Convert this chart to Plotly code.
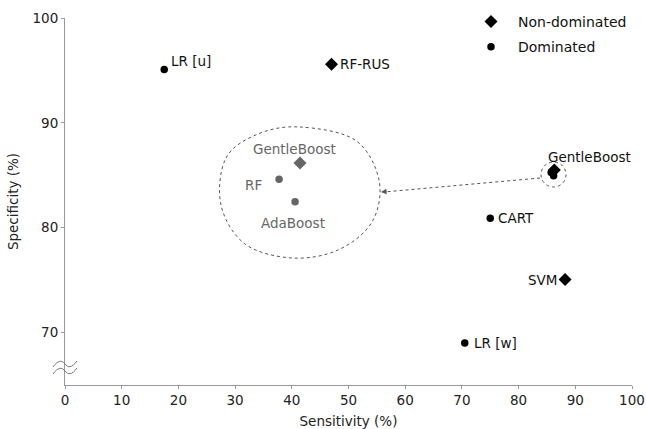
import plotly.graph_objects as go

# ---- data ----
nd_names = ["RF-RUS", "SVM", "GentleBoost"]
nd_sens = [47.0, 88.2, 86.3]
nd_spec = [95.6, 75.05, 85.5]

d_names = ["LR [u]", "CART", "LR [w]", "RF", "AdaBoost"]
d_sens = [17.5, 75.0, 70.5, 85.75, 86.17]
d_spec = [95.1, 80.9, 69.0, 85.27, 84.95]

x_ticks = list(range(0, 101, 10))
y_ticks = [70, 80, 90, 100]

# inset (zoomed cluster)
in_nd_names = ["GentleBoost"]
in_nd_sens = [86.3]
in_nd_spec = [85.5]
in_d_names = ["RF", "AdaBoost"]
in_d_sens = [85.75, 86.17]
in_d_spec = [85.27, 84.95]

FONT = "DejaVu Sans"
W, H = 646, 429
L, R, T, B = 65, 14, 18, 44
PW, PH = W - L - R, H - T - B


def px(x):
    return (x - L) / PW


def py(y):
    return (H - B - y) / PH


fig = go.Figure()

fig.add_trace(go.Scatter(
    x=nd_sens, y=nd_spec, mode="markers", name="Non-dominated",
    marker=dict(symbol="diamond", size=10, color="#000"),
    legendgroup="a",
))
fig.add_trace(go.Scatter(
    x=d_sens, y=d_spec, mode="markers", name="Dominated",
    marker=dict(symbol="circle", size=7.5, color="#000"),
    legendgroup="b",
))
# inset traces
fig.add_trace(go.Scatter(
    x=in_nd_sens, y=in_nd_spec, mode="markers", showlegend=False,
    marker=dict(symbol="diamond", size=10, color="#666"),
    xaxis="x2", yaxis="y2",
))
fig.add_trace(go.Scatter(
    x=in_d_sens, y=in_d_spec, mode="markers", showlegend=False,
    marker=dict(symbol="circle", size=7.5, color="#666"),
    xaxis="x2", yaxis="y2",
))

annots = []
# main labels: (name, xanchor, xshift, yshift)
main_lab = {
    "RF-RUS": ("left", 7, 0),
    "SVM": ("right", -6, 0),
    "GentleBoost": ("left", -8, 13),
    "LR [u]": ("left", 5, 8),
    "CART": ("left", 6, 0),
    "LR [w]": ("left", 7, 0),
}
for n, xv, yv in zip(nd_names + d_names, nd_sens + d_sens, nd_spec + d_spec):
    if n not in main_lab:
        continue
    xa, xs, ys = main_lab[n]
    annots.append(dict(x=xv, y=yv, xref="x", yref="y", text=n, showarrow=False,
                       xanchor=xa, yanchor="middle", xshift=xs, yshift=ys,
                       font=dict(family=FONT, size=13.5, color="#111")))

inset_lab = {
    "GentleBoost": ("center", -6, 14),
    "RF": ("right", -15, -6),
    "AdaBoost": ("center", -2, -21),
}
for n, xv, yv in zip(in_nd_names + in_d_names, in_nd_sens + in_d_sens, in_nd_spec + in_d_spec):
    xa, xs, ys = inset_lab[n]
    annots.append(dict(x=xv, y=yv, xref="x2", yref="y2", text=n, showarrow=False,
                       xanchor=xa, yanchor="middle", xshift=xs, yshift=ys,
                       font=dict(family=FONT, size=13.5, color="#666")))

# arrow head
annots.append(dict(x=px(381), y=py(192), xref="paper", yref="paper", text="",
                   showarrow=True, ax=7, ay=-0.6, axref="pixel", ayref="pixel",
                   arrowhead=2, arrowsize=1.1, arrowwidth=1, arrowcolor="#555"))

shapes = []
# dashed connector
shapes.append(dict(type="line", xref="paper", yref="paper",
                   x0=px(540), y0=py(178), x1=px(384), y1=py(192),
                   line=dict(color="#555", width=1, dash="dot")))
# small circle around cluster
shapes.append(dict(type="circle", xref="paper", yref="paper",
                   x0=px(541), x1=px(566), y0=py(162), y1=py(187),
                   line=dict(color="#555", width=1, dash="dot")))


# blob outline of inset (catmull-rom through points)
def blob_path(pts):
    n = len(pts)
    s = f"M {px(pts[0][0]):.5f},{py(pts[0][1]):.5f}"
    for i in range(n):
        p0 = pts[(i - 1) % n]
        p1 = pts[i]
        p2 = pts[(i + 1) % n]
        p3 = pts[(i + 2) % n]
        c1 = (p1[0] + (p2[0] - p0[0]) / 6, p1[1] + (p2[1] - p0[1]) / 6)
        c2 = (p2[0] - (p3[0] - p1[0]) / 6, p2[1] - (p3[1] - p1[1]) / 6)
        s += (f" C {px(c1[0]):.5f},{py(c1[1]):.5f} {px(c2[0]):.5f},{py(c2[1]):.5f}"
              f" {px(p2[0]):.5f},{py(p2[1]):.5f}")
    return s + " Z"


blob = [(300, 127), (355, 140), (379, 180), (372, 222), (338, 250), (292, 258),
        (245, 244), (221, 205), (226, 158), (258, 134)]
shapes.append(dict(type="path", xref="paper", yref="paper", path=blob_path(blob),
                   line=dict(color="#555", width=1, dash="dot")))

# axis break marks
for yy in (364, 371):
    path = (f"M {px(53):.5f},{py(yy + 3):.5f} "
            f"C {px(58):.5f},{py(yy - 4):.5f} {px(62):.5f},{py(yy - 4):.5f} {px(65):.5f},{py(yy):.5f} "
            f"C {px(68):.5f},{py(yy + 4):.5f} {px(72):.5f},{py(yy + 4):.5f} {px(77):.5f},{py(yy - 3):.5f}")
    shapes.append(dict(type="path", xref="paper", yref="paper", path=path,
                       line=dict(color="#777", width=1)))

axis_common = dict(showgrid=False, zeroline=False, showline=True, linecolor="#999",
                   linewidth=1, ticks="outside", tickcolor="#999", ticklen=3,
                   automargin=False,
                   tickfont=dict(family=FONT, size=13.5, color="#222"))

fig.update_layout(
    width=W, height=H,
    margin=dict(l=L, r=R, t=T, b=B, autoexpand=False),
    paper_bgcolor="white", plot_bgcolor="white",
    font=dict(family=FONT, size=13.5, color="#222"),
    xaxis=dict(range=[0, 100], tickvals=x_ticks, title=dict(text="Sensitivity (%)", standoff=10,
               font=dict(family=FONT, size=13.5, color="#222")), **axis_common),
    yaxis=dict(range=[65, 100], tickvals=y_ticks, title=dict(text="Specificity (%)", standoff=10,
               font=dict(family=FONT, size=13.5, color="#222")), **axis_common),
    xaxis2=dict(domain=[px(215), px(385)], range=[84.063, 84.063 + 170 / 38.0], anchor="y2",
                visible=False),
    yaxis2=dict(domain=[py(262), py(120)], range=[86.111 - 142 / 70.4, 86.111], anchor="x2",
                visible=False),
    legend=dict(x=px(464), y=py(6), xanchor="left", yanchor="top",
                font=dict(family=FONT, size=14, color="#111"),
                traceorder="grouped", tracegroupgap=4, itemwidth=44,
                bgcolor="rgba(0,0,0,0)"),
    shapes=shapes,
    annotations=annots,
)

fig.write_html("out.html")
